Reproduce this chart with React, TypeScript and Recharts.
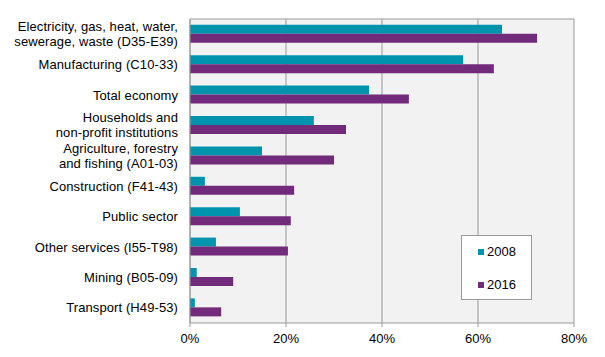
import { BarChart, Bar, XAxis, YAxis, CartesianGrid } from "recharts";

const categories = [
    "Electricity, gas, heat, water,\nsewerage, waste (D35-E39)",
    "Manufacturing (C10-33)",
    "Total economy",
    "Households and\nnon-profit institutions",
    "Agriculture, forestry\nand fishing (A01-03)",
    "Construction (F41-43)",
    "Public sector",
    "Other services (I55-T98)",
    "Mining (B05-09)",
    "Transport (H49-53)",
];
const values2008 = [65.0, 56.9, 37.3, 25.8, 15.0, 3.1, 10.4, 5.4, 1.4, 1.0];
const values2016 = [72.3, 63.3, 45.6, 32.5, 30.0, 21.7, 21.0, 20.4, 9.0, 6.5];
const xTicks = [0, 20, 40, 60, 80];
const seriesNames = ["2008", "2016"];

const data = categories.map((name, i) => ({
    name,
    y2008: values2008[i],
    y2016: values2016[i],
}));

const FONT = "'Liberation Sans', Arial, sans-serif";
const TEAL = "#0093ad";
const PURPLE = "#722a7a";
const GRID = "#999999";

const CategoryTick = (props: any) => {
    const { x, y, payload } = props;
    const lines: string[] = String(payload.value).split("\n");
    const lineH = 15;
    const startDy = -((lines.length - 1) * lineH) / 2;
    return (
        <text x={x} y={y} textAnchor="end" fill="#000" fontSize={13} fontFamily={FONT} letterSpacing={0.1}>
            {lines.map((l, i) => (
                <tspan key={i} x={x} dy={i === 0 ? startDy + 4.5 : lineH}>
                    {l}
                </tspan>
            ))}
        </text>
    );
};

// legend box sits inside the plot, lower right
const LegendBox = () => (
    <div
        style={{
            position: "absolute",
            left: 461,
            top: 235,
            width: 71,
            height: 65,
            boxSizing: "border-box",
            border: `1px solid ${GRID}`,
            background: "#fff",
            fontFamily: FONT,
            fontSize: 13,
            color: "#000",
        }}
    >
        {seriesNames.map((label, i) => (
            <div
                key={label}
                style={{ position: "absolute", left: 16, top: 8 + i * 33, display: "flex", alignItems: "center", lineHeight: "15px" }}
            >
                <span style={{ width: 6, height: 6, background: i === 0 ? TEAL : PURPLE, display: "inline-block", marginRight: 3 }} />
                <span>{label}</span>
            </div>
        ))}
    </div>
);

export default function App() {
    return (
        <div style={{ position: "absolute", left: 0, top: 0, width: 605, height: 357, background: "#fff" }}>
            <BarChart
                width={605}
                height={357}
                data={data}
                layout="vertical"
                margin={{ top: 19, right: 31, bottom: 8, left: 0 }}
                barCategoryGap="19%"
                barGap={0}
            >
                <CartesianGrid
                    stroke={GRID}
                    fill="#f2f2f2"
                    horizontal={true}
                    horizontalCoordinatesGenerator={({ offset }: any) => [offset.top]}
                />
                <XAxis
                    type="number"
                    domain={[0, 80]}
                    ticks={xTicks}
                    tickFormatter={(v: number) => `${v}%`}
                    axisLine={{ stroke: GRID }}
                    tickLine={{ stroke: GRID }}
                    tickSize={4}
                    tickMargin={7}
                    height={26}
                    tick={{ fill: "#000", fontSize: 13, fontFamily: FONT }}
                />
                <YAxis
                    type="category"
                    dataKey="name"
                    width={190}
                    axisLine={{ stroke: GRID }}
                    tickLine={false}
                    tickMargin={6}
                    tick={<CategoryTick />}
                    interval={0}
                />
                <Bar dataKey="y2008" name={seriesNames[0]} fill={TEAL} isAnimationActive={false} />
                <Bar dataKey="y2016" name={seriesNames[1]} fill={PURPLE} isAnimationActive={false} />
            </BarChart>
            <LegendBox />
        </div>
    );
}
